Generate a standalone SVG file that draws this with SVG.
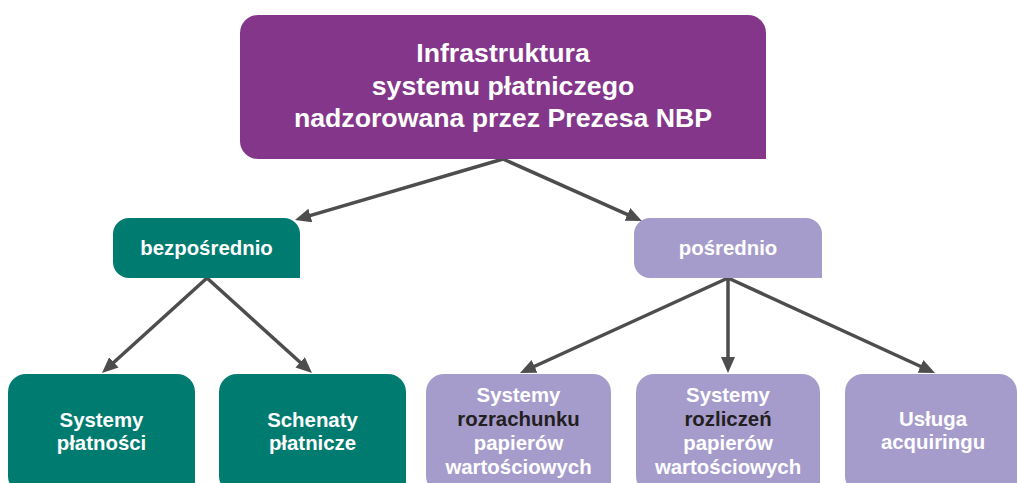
<svg xmlns="http://www.w3.org/2000/svg" width="1018" height="483" viewBox="0 0 1018 483">
<style>
.t{font-family:"Liberation Sans",Arial,sans-serif;font-weight:bold;fill:#ffffff;text-anchor:middle}
.big{font-size:26.7px}
.mid{font-size:20.4px}
.dk{fill:#231f20}
.purple{fill:#84378a}
.teal{fill:#007b70}
.lav{fill:#a69ccc}
.c{stroke:#4d4d4d;stroke-width:3.5;fill:none;marker-end:url(#ah)}
</style>
<defs>
<marker id="ah" viewBox="0 0 16 14" refX="4" refY="7" markerWidth="16" markerHeight="14" markerUnits="userSpaceOnUse" orient="auto">
<path d="M0,0 L16,7 L0,14 Z" fill="#4d4d4d"/>
</marker>
</defs>
<rect width="1018" height="483" fill="#ffffff"/>
<g id="connectors">
<line class="c" x1="503" y1="159" x2="306.5" y2="216.6"/>
<line class="c" x1="503" y1="159" x2="631" y2="216.1"/>
<line class="c" x1="207" y1="278" x2="110.9" y2="365"/>
<line class="c" x1="207" y1="278" x2="303.1" y2="365"/>
<line class="c" x1="728" y1="278" x2="530.9" y2="368"/>
<line class="c" x1="728" y1="278" x2="728" y2="361"/>
<line class="c" x1="728" y1="278" x2="924.1" y2="368"/>
</g>
<g id="root">
<path class="purple" d="M258,15 H748 A18,18 0 0 1 766,33 V159 H258 A18,18 0 0 1 240,141 V33 A18,18 0 0 1 258,15 Z"/>
<text class="t big" x="503" y="62">Infrastruktura</text>
<text class="t big" x="503" y="94.5">systemu płatniczego</text>
<text class="t big" x="503" y="127">nadzorowana przez Prezesa NBP</text>
</g>
<g id="bezposrednio">
<path class="teal" d="M129,218 H284 A16,16 0 0 1 300,234 V278 H129 A16,16 0 0 1 113,262 V234 A16,16 0 0 1 129,218 Z"/>
<text class="t mid" x="206.5" y="255">bezpośrednio</text>
</g>
<g id="posrednio">
<path class="lav" d="M650,218 H806 A16,16 0 0 1 822,234 V278 H650 A16,16 0 0 1 634,262 V234 A16,16 0 0 1 650,218 Z"/>
<text class="t mid" x="728" y="255">pośrednio</text>
</g>
<g id="systemy-platnosci">
<path class="teal" d="M26,374 H177 A18,18 0 0 1 195,392 V494 H26 A18,18 0 0 1 8,476 V392 A18,18 0 0 1 26,374 Z"/>
<text class="t mid" x="101.5" y="427">Systemy</text>
<text class="t mid" x="101.5" y="450">płatności</text>
</g>
<g id="schematy-platnicze">
<path class="teal" d="M237,374 H388 A18,18 0 0 1 406,392 V494 H237 A18,18 0 0 1 219,476 V392 A18,18 0 0 1 237,374 Z"/>
<text class="t mid" x="312.5" y="427">Schenaty</text>
<text class="t mid" x="312.5" y="450">płatnicze</text>
</g>
<g id="systemy-rozrachunku">
<path class="lav" d="M444,374 H593 A18,18 0 0 1 611,392 V494 H444 A18,18 0 0 1 426,476 V392 A18,18 0 0 1 444,374 Z"/>
<text class="t mid" x="518.5" y="402">Systemy</text>
<text class="t mid dk" x="518.5" y="426">rozrachunku</text>
<text class="t mid" x="518.5" y="450">papierów</text>
<text class="t mid" x="518.5" y="474">wartościowych</text>
</g>
<g id="systemy-rozliczen">
<path class="lav" d="M654,374 H802 A18,18 0 0 1 820,392 V494 H654 A18,18 0 0 1 636,476 V392 A18,18 0 0 1 654,374 Z"/>
<text class="t mid" x="728" y="402">Systemy</text>
<text class="t mid dk" x="728" y="426">rozliczeń</text>
<text class="t mid" x="728" y="450">papierów</text>
<text class="t mid" x="728" y="474">wartościowych</text>
</g>
<g id="usluga-acquiringu">
<path class="lav" d="M863,374 H999 A18,18 0 0 1 1017,392 V494 H863 A18,18 0 0 1 845,476 V392 A18,18 0 0 1 863,374 Z"/>
<text class="t mid" x="933" y="426">Usługa</text>
<text class="t mid" x="933" y="449">acquiringu</text>
</g>
</svg>
